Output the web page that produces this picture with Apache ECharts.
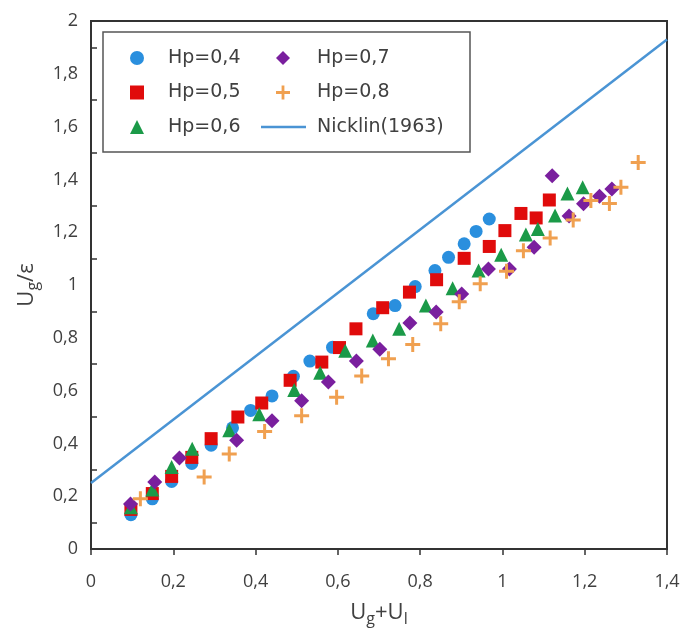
<!DOCTYPE html>
<html>
<head>
<meta charset="utf-8">
<script src="https://cdn.jsdelivr.net/npm/echarts@6/dist/echarts.min.js"></script>
<style>
html,body{margin:0;padding:0;background:#fff;}
#c{width:688px;height:637px;}
</style>
</head>
<body>
<div id="c"></div>
<script>
// ---- data ----
const hp04 = [[0.097,0.13],[0.149,0.19],[0.196,0.256],[0.245,0.324],[0.292,0.393],[0.344,0.459],[0.388,0.525],[0.440,0.580],[0.492,0.654],[0.532,0.712],[0.587,0.764],[0.686,0.891],[0.739,0.922],[0.788,0.994],[0.836,1.055],[0.869,1.105],[0.907,1.156],[0.936,1.203],[0.968,1.250]];
const hp05 = [[0.097,0.15],[0.149,0.21],[0.196,0.275],[0.245,0.347],[0.292,0.418],[0.357,0.500],[0.415,0.553],[0.484,0.639],[0.561,0.708],[0.604,0.763],[0.644,0.834],[0.709,0.914],[0.774,0.973],[0.840,1.020],[0.907,1.101],[0.968,1.146],[1.006,1.206],[1.045,1.271],[1.082,1.254],[1.114,1.322]];
const hp06 = [[0.097,0.158],[0.149,0.225],[0.196,0.311],[0.246,0.380],[0.336,0.450],[0.409,0.510],[0.494,0.602],[0.557,0.668],[0.618,0.751],[0.685,0.790],[0.749,0.834],[0.814,0.922],[0.879,0.988],[0.942,1.055],[0.997,1.115],[1.057,1.191],[1.086,1.212],[1.128,1.263],[1.158,1.347],[1.195,1.370]];
const hp07 = [[0.096,0.170],[0.155,0.254],[0.215,0.345],[0.354,0.412],[0.440,0.486],[0.512,0.562],[0.577,0.633],[0.645,0.712],[0.702,0.757],[0.775,0.856],[0.839,0.898],[0.901,0.966],[0.966,1.061],[1.017,1.061],[1.077,1.143],[1.121,1.414],[1.162,1.261],[1.197,1.308],[1.236,1.336],[1.266,1.364]];
const hp08 = [[0.120,0.19],[0.275,0.273],[0.336,0.36],[0.422,0.445],[0.512,0.505],[0.597,0.575],[0.658,0.655],[0.723,0.721],[0.782,0.775],[0.850,0.853],[0.895,0.937],[0.946,1.005],[1.010,1.052],[1.051,1.130],[1.116,1.178],[1.172,1.246],[1.215,1.320],[1.260,1.309],[1.288,1.370],[1.330,1.464]];
const nicklin = [[0,0.25],[1.4,1.93]];
const seriesNames = ['Hp=0,4','Hp=0,5','Hp=0,6','Hp=0,7','Hp=0,8','Nicklin(1963)'];
const xTicks = [0,1.4,0.2];
const yTicks = [0,2,0.2];

const FONT = '"Open Sans", "Liberation Sans", sans-serif';
const LFONT = '"DejaVu Sans", sans-serif';
const TXT = '#404040';
const plus = 'path://M4,0h2v4h4v2h-4v4h-2v-4h-4v-2h4z';
const fmt = v => String(+v.toFixed(2)).replace('.', ',');
const legendText = pad => ({fontSize: 19, color: TXT, fontFamily: LFONT, lineHeight: 20, padding: [0,0,0,pad]});

const chart = echarts.init(document.getElementById('c'));
chart.setOption({
  animation: false,
  backgroundColor: '#fff',
  grid: {left: 91, right: 21, top: 21, bottom: 88, show: true, borderColor: '#333', borderWidth: 2},
  xAxis: {
    type: 'value', min: xTicks[0], max: xTicks[1], interval: xTicks[2],
    splitLine: {show: false},
    axisLine: {lineStyle: {color: '#333', width: 2}},
    axisTick: {show: true, inside: false, length: 6, lineStyle: {color: '#333', width: 1.5}},
    axisLabel: {formatter: fmt, color: TXT, fontSize: 18, fontFamily: FONT, margin: 24},
    name: '{a|U}{b|g}{a|+U}{b|l}', nameLocation: 'middle', nameGap: 50,
    nameTextStyle: {rich: {
      a: {fontSize: 22, color: TXT, fontFamily: FONT, lineHeight: 28},
      b: {fontSize: 16, color: TXT, fontFamily: FONT, lineHeight: 28, padding: [12,0,0,0]}
    }}
  },
  yAxis: {
    type: 'value', min: yTicks[0], max: yTicks[1], interval: yTicks[2],
    splitLine: {show: false},
    axisLine: {lineStyle: {color: '#333', width: 2}},
    axisTick: {show: false, inside: true},
    minorTick: {show: true, splitNumber: 2, length: 6, lineStyle: {color: '#333', width: 1.5}},
    minorSplitLine: {show: false},
    axisLabel: {formatter: fmt, color: TXT, fontSize: 18, fontFamily: FONT, margin: 13},
    name: '{a|U}{b|g}{a|/ε}', nameLocation: 'middle', nameGap: 50, nameRotate: 90,
    nameTextStyle: {rich: {
      a: {fontSize: 22, color: TXT, fontFamily: FONT, lineHeight: 28},
      b: {fontSize: 16, color: TXT, fontFamily: FONT, lineHeight: 28, padding: [12,0,0,0]}
    }}
  },
  legend: [
    {
      orient: 'vertical', left: 130, top: 48, padding: 0, itemGap: 14.5,
      itemWidth: 14, itemHeight: 14, symbolKeepAspect: true,
      data: seriesNames.slice(0,3),
      textStyle: legendText(19)
    },
    {
      orient: 'vertical', left: 276, top: 48, padding: 0, itemGap: 14.5,
      itemWidth: 14, itemHeight: 14, symbolKeepAspect: true,
      data: seriesNames.slice(3,5),
      textStyle: legendText(22)
    },
    {
      orient: 'vertical', left: 261, top: 117, padding: 0,
      itemWidth: 45, itemHeight: 2.5,
      data: [{name: seriesNames[5], icon: 'rect'}],
      textStyle: legendText(6)
    }
  ],
  graphic: [{
    type: 'rect', shape: {x: 103, y: 32, width: 367, height: 120},
    style: {fill: 'none', stroke: '#555', lineWidth: 1.5}, z: 100
  }],
  series: [
    {name: seriesNames[0], type: 'scatter', data: hp04, symbol: 'circle', symbolSize: 13, itemStyle: {color: '#2a8fde', opacity: 1}},
    {name: seriesNames[1], type: 'scatter', data: hp05, symbol: 'rect', symbolSize: 13, itemStyle: {color: '#e00b0b', opacity: 1}},
    {name: seriesNames[2], type: 'scatter', data: hp06, symbol: 'triangle', symbolSize: 14, itemStyle: {color: '#1b9a48', opacity: 1}},
    {name: seriesNames[3], type: 'scatter', data: hp07, symbol: 'diamond', symbolSize: 15, itemStyle: {color: '#7a1f9e', opacity: 1}},
    {name: seriesNames[4], type: 'scatter', data: hp08, symbol: plus, symbolSize: 15, itemStyle: {color: '#f0a050', opacity: 1}},
    {name: seriesNames[5], type: 'line', data: nicklin, symbol: 'none', showSymbol: false,
     lineStyle: {color: '#4a94d4', width: 2.5}, itemStyle: {color: '#4a94d4'}, z: 1}
  ]
});
</script>
</body>
</html>
